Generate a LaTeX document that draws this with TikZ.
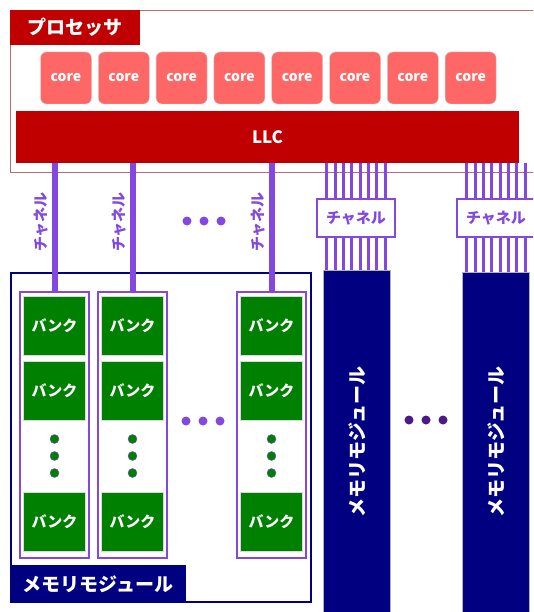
\documentclass[tikz,border=0pt]{standalone}
\usepackage{fontspec}
\setmainfont{Noto Sans CJK JP}
\usetikzlibrary{positioning, calc}
\definecolor{procred}{RGB}{192,0,0}
\definecolor{corered}{RGB}{255,102,102}
\definecolor{framered}{RGB}{180,110,110}
\definecolor{chpurple}{RGB}{130,72,224}
\definecolor{dotpurple}{RGB}{75,25,140}
\definecolor{memnavy}{RGB}{0,0,128}
\definecolor{bankgreen}{RGB}{0,128,0}

\begin{document}
\begin{tikzpicture}[x=1pt, y=-1pt,
  core/.style={rectangle, rounded corners=6pt, draw=gray!35, fill=corered, text=white,
               minimum width=51pt, minimum height=52pt, font=\bfseries\fontsize{14pt}{16pt}\selectfont},
  tab/.style={rectangle, inner sep=0pt, text=white, font=\bfseries\fontsize{19pt}{21pt}\selectfont},
  bankcol/.style={rectangle, draw=chpurple, line width=2pt, fill=white,
                  minimum width=69pt, minimum height=266pt},
  bank/.style={rectangle, draw=gray!30, fill=bankgreen, text=white, inner sep=0pt,
               minimum width=62pt, minimum height=59pt, font=\bfseries\fontsize{15pt}{17pt}\selectfont},
  bankdot/.style={circle, draw=chpurple, fill=bankgreen, inner sep=0pt, minimum size=9pt},
  membar/.style={rectangle, draw=gray!60, fill=memnavy, minimum width=67pt, minimum height=350pt},
  memlabel/.style={text=white, inner sep=0pt, font=\bfseries\fontsize{19pt}{21pt}\selectfont},
  chbox/.style={rectangle, draw=chpurple, line width=2pt, fill=white, text=chpurple,
                minimum width=78pt, minimum height=38pt, font=\bfseries\fontsize{15pt}{17pt}\selectfont},
  chlabel/.style={text=chpurple, inner sep=0pt, font=\bfseries\fontsize{15pt}{17pt}\selectfont},
  chline/.style={chpurple, line width=6pt},
  chthin/.style={chpurple, line width=3pt}
]
  \clip (0,0) rectangle (533,612);
  \fill[white] (0,0) rectangle (533,612);

  % processor
  \draw[framered] (10,10) rectangle (560,172);
  \node[tab, fill=procred, minimum width=130pt, minimum height=35pt, anchor=north west] (proc) at (10,10) {プロセッサ};
  \node[core] (core1) at (66,78) {core};
  \foreach \i [remember=\i as \j (initially 1)] in {2,...,8}
    \node[core, right=6.4pt of core\j] (core\i) {core};
  \node[rectangle, fill=procred, text=white, minimum width=503pt, minimum height=52pt,
        font=\bfseries\fontsize{17pt}{19pt}\selectfont] (llc) at (267.5,137) {LLC};

  % memory module with banks
  \node[rectangle, draw=memnavy, line width=2pt, fill=white,
        minimum width=300pt, minimum height=329pt] (mmA) at (161,437.5) {};
  \node[tab, fill=memnavy, minimum width=176pt, minimum height=38pt, anchor=south west] (mmAtab) at (mmA.south west) {メモリモジュール};

  \foreach \n/\x in {1/54.5, 2/132.5, 3/271.5} {
    \node[bankcol] (col\n) at (\x,425) {};
    \node[bank, below=5pt of col\n.north] (b\n1) {バンク};
    \node[bank, below=6pt of b\n1] (b\n2) {バンク};
    \node[bank, above=8pt of col\n.south] (b\n3) {バンク};
    \foreach \y [count=\k] in {439,456,473}
      \node[bankdot] (d\n\k) at (col\n |- 0,\y) {};
    \draw[chline] (col\n.north) -- (col\n.north |- llc.south);
    \node[chlabel, rotate=90] (lab\n) at ([xshift=-13pt]col\n.north |- 0,222) {チャネル};
  }
  \foreach \x in {187,204,221} \fill[chpurple] (\x,221) circle (4.5);
  \foreach \x in {186,203,220} \fill[chpurple] (\x,421) circle (4.5);

  % memory modules on wide channels
  \node[membar, anchor=north] (mmB) at (356.5,270) {};
  \node[membar, anchor=north] (mmC) at (496,272) {};
  \node[memlabel, rotate=90] (mmBlab) at (357,442) {メモリモジュール};
  \node[memlabel, rotate=90] (mmClab) at (496,442) {メモリモジュール};
  \node[chbox] (chB) at (356,218) {チャネル};
  \node[chbox] (chC) at (496,218) {チャネル};
  \foreach \c/\m in {chB/mmB, chC/mmC}
    \foreach \i in {0,...,7} {
      \draw[chthin] ([xshift={(\i-3.5)*8.33pt}]\c.north) -- ([xshift={(\i-3.5)*8.33pt}]\c.north |- llc.south);
      \draw[chthin] ([xshift={(\i-3.5)*8.33pt}]\c.south) -- ([xshift={(\i-3.5)*8.33pt}]\c.south |- \m.north);
    }
  \foreach \x in {409,426,443} \fill[dotpurple] (\x,420) circle (4.5);
\end{tikzpicture}
\end{document}
